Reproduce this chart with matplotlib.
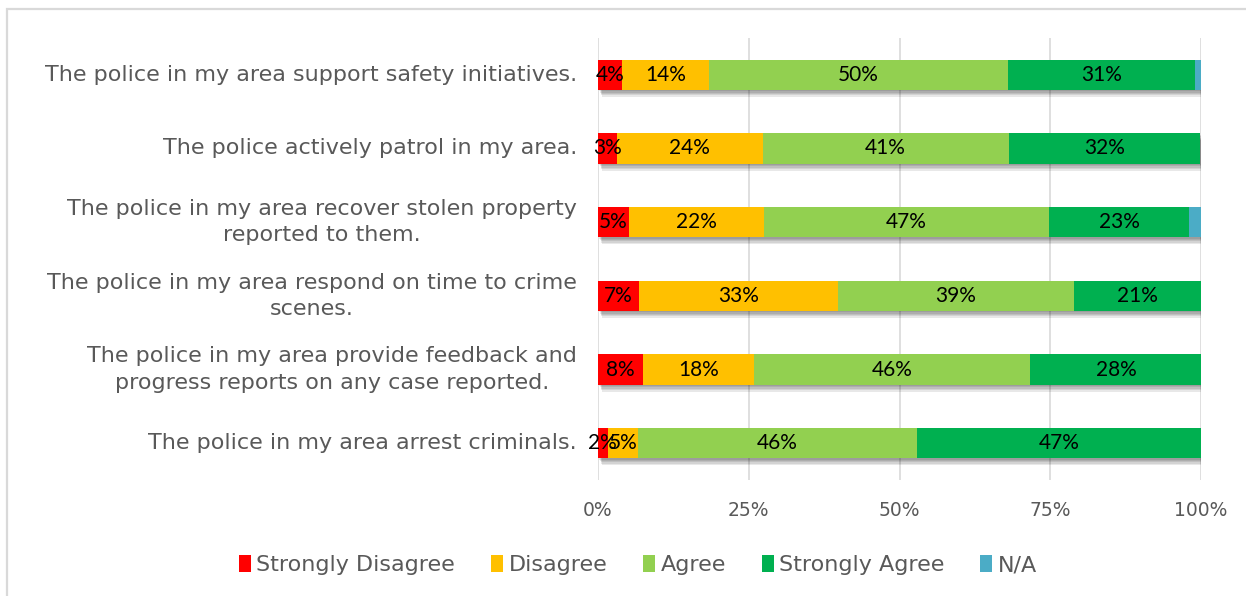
import numpy as np
import matplotlib
matplotlib.use('Agg')
import matplotlib.pyplot as plt
import matplotlib.patheffects as pe
from matplotlib.patches import Rectangle, Patch

# Survey statements, top to bottom
statements = [
    'The police in my area support safety initiatives.',
    'The police actively patrol in my area.',
    'The police in my area recover stolen property\nreported to them.',
    'The police in my area respond on time to crime\nscenes.',
    'The police in my area provide feedback and\nprogress reports on any case reported.',
    'The police in my area arrest criminals.',
]
responses = ['Strongly Disagree', 'Disagree', 'Agree', 'Strongly Agree', 'N/A']

# Share of respondents (%) per statement
strongly_disagree = [4.0, 3.1, 5.1, 6.8, 7.5, 1.6]
disagree = [14.4, 24.2, 22.4, 33.0, 18.4, 5.0]
agree = [49.6, 40.8, 47.3, 39.1, 45.8, 46.3]
strongly_agree = [31.0, 31.8, 23.2, 21.1, 28.4, 47.1]
not_applicable = [1.0, 0.0, 2.0, 0.0, 0.0, 0.0]

colors = ['#FF0000', '#FFC000', '#92D050', '#00B050', '#4BACC6']
series = [strongly_disagree, disagree, agree, strongly_agree, not_applicable]

fig = plt.figure(figsize=(12.46, 5.96), dpi=100)
ax = fig.add_axes([598 / 1246, 1 - 480 / 596, 603 / 1246, 442 / 596])

# light chart-area frame
fig.patches.append(Rectangle((7 / 1246, -0.1), 1.2, 1 - 9 / 596 + 0.1,
                             transform=fig.transFigure, fill=False,
                             edgecolor='#D9D9D9', linewidth=1.6, zorder=0))

y = np.arange(len(statements))
left = np.zeros(len(statements))
# soft drop shadow built from a few faint offset copies
shadow = [pe.SimplePatchShadow(offset=(o * 0.6, -o), shadow_rgbFace='black', alpha=0.09)
          for o in (1, 2, 3, 4, 5)] + [pe.Normal()]
for vals, color, name in zip(series, colors, responses):
    vals = np.array(vals)
    bars = ax.barh(y, vals, left=left, height=0.41, color=color, zorder=3)
    for b in bars:
        b.set_path_effects(shadow)
    if name != 'N/A':
        for yi, v, l in zip(y, vals, left):
            if v > 0:
                ax.text(l + v / 2, yi, '%.0f%%' % v, ha='center', va='center',
                        fontsize=15, family='Lato', color='black', zorder=5)
    left += vals

ax.set_xlim(0, 100)
ax.set_ylim(len(statements) - 0.5, -0.5)
ax.set_xticks([0, 25, 50, 75, 100])
ax.set_xticklabels(['0%', '25%', '50%', '75%', '100%'])
ax.xaxis.grid(True, color='#D9D9D9', linewidth=1.2, zorder=0)
ax.set_axisbelow(True)
for s in ax.spines.values():
    s.set_visible(False)
ax.tick_params(axis='x', length=0, pad=15, labelsize=13.5, labelcolor='#595959')
ax.set_yticks(y)
ax.set_yticklabels([])
ax.tick_params(axis='y', length=0)

for yi, txt in zip(y, statements):
    ax.text(-0.035, yi, txt, transform=ax.get_yaxis_transform(), ha='right',
            va='center', multialignment='center', fontsize=16,
            family='DejaVu Sans', color='#595959', linespacing=1.4)

handles = [Patch(facecolor=c, label=n) for c, n in zip(colors, responses)]
fig.legend(handles=handles, loc='center', bbox_to_anchor=(0.512, 1 - 565 / 596),
           ncol=5, frameon=False, fontsize=16, handlelength=0.55, handleheight=0.85,
           handletextpad=0.25, columnspacing=1.6, labelcolor='#595959')

plt.savefig('out.png', dpi=100)
